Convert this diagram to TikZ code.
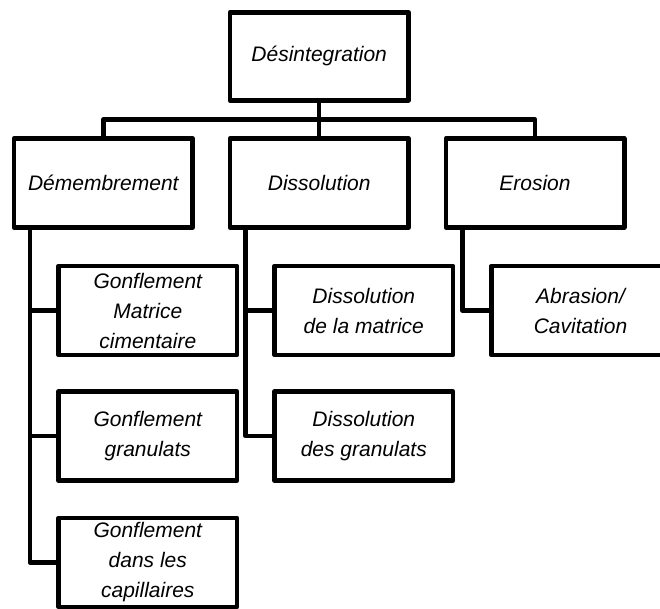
\documentclass[tikz,border=0pt]{standalone}
\usepackage{fontspec}
\setmainfont{Liberation Sans}
\usetikzlibrary{calc}
\begin{document}
\begin{tikzpicture}[x=1pt,y=1pt,
  box/.style={draw=black, line width=4.5pt, line join=round, fill=white,
    minimum width=178.5pt, minimum height=89pt, inner sep=0pt,
    align=center, font=\itshape\fontsize{21}{30}\selectfont},
  link/.style={draw=black, line width=4.5pt, line join=round}]
\clip (0,0) rectangle (660,608);
\fill[white] (0,0) rectangle (660,608);
% nodes
\node[box, minimum height=88pt] (top) at (319.2,551.7) {Désintegration};
\node[box] (dem) at (103.3,425) {Démembrement};
\node[box] (dis) at (319.2,425) {Dissolution};
\node[box] (ero) at (535,425) {Erosion};
\node[box] (g1) at (147.8,297.5) {Gonflement\\Matrice\\cimentaire};
\node[box] (g2) at (147.8,172) {Gonflement\\granulats};
\node[box] (g3) at (147.8,45.6) {Gonflement\\dans les\\capillaires};
\node[box] (d1) at (363.8,297.5) {Dissolution\\de la matrice};
\node[box] (d2) at (363.8,172) {Dissolution\\des granulats};
\node[box] (a1) at (580.5,297.5) {Abrasion/\\Cavitation};
% connectors
\coordinate (bus) at ($(top.south)!0.5!(dis.north)$);
\draw[link] (top.south) -- (dis.north);
\draw[link] (dem.north) |- (bus) -| (ero.north);
\draw[link] ([xshift=18pt]dem.south west) |- (g3.west);
\draw[link] ([xshift=18pt]dem.south west) |- (g1.west);
\draw[link] ([xshift=18pt]dem.south west) |- (g2.west);
\draw[link] ([xshift=18pt]dis.south west) |- (d2.west);
\draw[link] ([xshift=18pt]dis.south west) |- (d1.west);
\draw[link] ([xshift=19pt]ero.south west) |- (a1.west);
\end{tikzpicture}
\end{document}
